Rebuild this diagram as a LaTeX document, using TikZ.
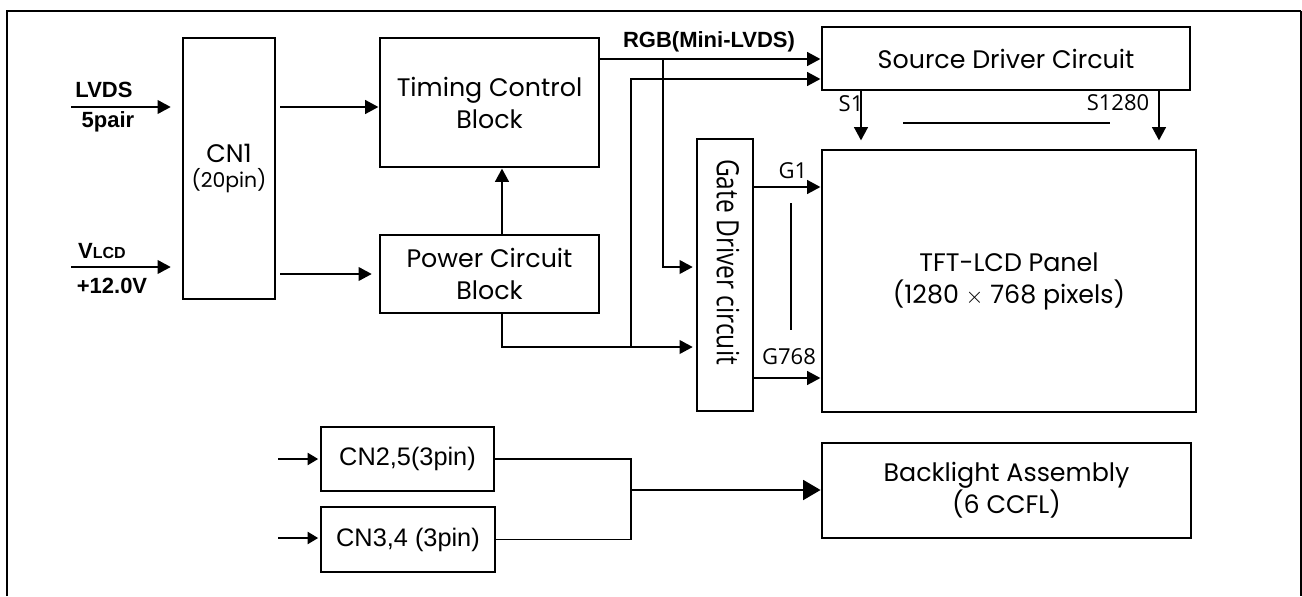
\documentclass[tikz,border=0pt]{standalone}
\usepackage{fontspec}
\setmainfont{Poppins}
\newfontfamily\arialf{Liberation Sans}
\newfontfamily\segoef{Open Sans}
\usetikzlibrary{arrows.meta,calc}
\begin{document}
\begin{tikzpicture}[x=0.75pt,y=-0.75pt,
  box/.style={draw,line width=2.2pt,inner sep=0pt,align=center,font=\fontsize{19}{24}\selectfont},
  sz/.style 2 args={minimum width=#1*0.75pt,minimum height=#2*0.75pt},
  abox/.style={box,font=\arialf\fontsize{19}{22}\selectfont},
  arr/.style={line width=2.2pt,-{Triangle[length=10pt,width=10pt]}},
  sarr/.style={line width=1.8pt,-{Triangle[length=8pt,width=9pt]}},
  wire/.style={line width=2.2pt},
  thinw/.style={line width=1pt},
  bigarr/.style={line width=1pt,-{Triangle[length=13pt,width=15pt]}},
  lbl/.style={font=\arialf\bfseries\fontsize{16.5}{18}\selectfont,inner sep=0pt},
  pin/.style={font=\segoef\fontsize{16.5}{18}\selectfont,inner sep=0pt}]
\useasboundingbox (0,0) rectangle (1302,596);
% frame
\draw[line width=2pt] (7,596) -- (7,11) -- (1301,11);
\draw[line width=1.2pt] (1301,11) -- (1301,596);
% boxes
\node[box,sz={92}{261}] (cn1) at (229,168.5) {CN1\\[-5pt]{\fontsize{15.3}{17}\selectfont(20pin)}};
\node[box,sz={219}{129}] (timing) at (489.5,102.5) {Timing Control\\Block};
\node[box,sz={219}{78}] (power) at (489.5,274) {Power Circuit\\Block};
\node[box,sz={368}{63}] (source) at (1006,58.5) {Source Driver Circuit};
\node[box,sz={56}{272}] (gate) at (725,275) {};
\node[rotate=-90,inner sep=0pt,font=\segoef\fontsize{23}{26}\selectfont] (gatetext) at (728,262) {\scalebox{0.8}[1]{Gate Driver circuit}};
\node[box,sz={374}{262}] (tft) at (1009,281) {TFT-LCD Panel\\(1280 $\times$ 768 pixels)};
\node[box,sz={369}{95}] (back) at (1006.5,490.5) {Backlight Assembly\\(6 CCFL)};
\node[abox,sz={173}{64}] (cn25) at (407.5,459) {CN2,5(3pin)};
\node[abox,sz={174}{65}] (cn34) at (408,539.5) {CN3,4 (3pin)};
% input labels
\node[lbl] (lvds) at (104,90) {LVDS};
\node[lbl] (pair) at (108,122) {5pair};
\node[lbl] (vlcd) at (102,251) {V{\fontsize{12}{13}\selectfont LCD}};
\node[lbl] (v12) at (112,286) {+12.0V};
\node[lbl] (rgb) at (709,42) {RGB(Mini-LVDS)};
% pin labels
\node[pin] (s1) at (851,104) {S1};
\node[pin] (s1280) at (1118,103) {S1280};
\node[pin] (g1) at (793,171) {G1};
\node[pin] (g768) at (789,357) {G768};
% coordinates
\coordinate (lvdsin) at (71,107);
\coordinate (vlcdin) at (71,267);
\coordinate (pj) at (502,347);
\coordinate (bj) at (631,347);
\coordinate (bt) at (631,79);
\coordinate (rgbrow) at (700,59);
\coordinate (rj) at (663,59);
\coordinate (rk) at (663,267);
\coordinate (g1row) at (760,187);
\coordinate (g768row) at (760,378);
\coordinate (s1col) at (861,100);
\coordinate (s2col) at (1159,100);
\coordinate (vd1) at (791,203);
\coordinate (vd2) at (791,330);
\coordinate (hd1) at (903,123);
\coordinate (hd2) at (1110,123);
\coordinate (in25) at (278,459);
\coordinate (in34) at (278,538);
\coordinate (jn) at (631,490);
% connectors
\draw[arr,shorten >=8pt] (lvdsin) -- (cn1.west |- lvdsin);
\draw[arr,shorten >=8pt] (vlcdin) -- (cn1.west |- vlcdin);
\draw[arr,shorten <=3pt] (cn1.east |- lvdsin) -- (timing.west |- lvdsin);
\draw[arr,shorten <=3pt,shorten >=5pt] (cn1.east |- power.west) -- (power.west);
\draw[arr] (power.north -| pj) -- (timing.south -| pj);
\draw[arr,shorten >=2pt] (power.south -| pj) -- (pj) -- (gate.west |- pj);
\draw[arr] (bj) -- (bt) -- (source.west |- bt);
\draw[arr] (timing.east |- rgbrow) -- (source.west |- rgbrow);
\draw[arr,shorten >=2pt] (rj) -- (rk) -- (gate.west |- rk);
\draw[arr] (gate.east |- g1row) -- (tft.west |- g1row);
\draw[arr] (gate.east |- g768row) -- (tft.west |- g768row);
\draw[arr,shorten >=6pt] (source.south -| s1col) -- (tft.north -| s1col);
\draw[arr,shorten >=6pt] (source.south -| s2col) -- (tft.north -| s2col);
\draw[wire] (vd1) -- (vd2);
\draw[wire] (hd1) -- (hd2);
\draw[sarr,shorten >=1pt] (in25) -- (cn25.west |- in25);
\draw[sarr,shorten >=1pt] (in34) -- (cn34.west |- in34);
\draw[thinw] (cn25.east) -- (cn25.east -| jn) -- (cn34.east -| jn) -- (cn34.east);
\draw[bigarr] (jn) -- (back.west |- jn);
\end{tikzpicture}
\end{document}
